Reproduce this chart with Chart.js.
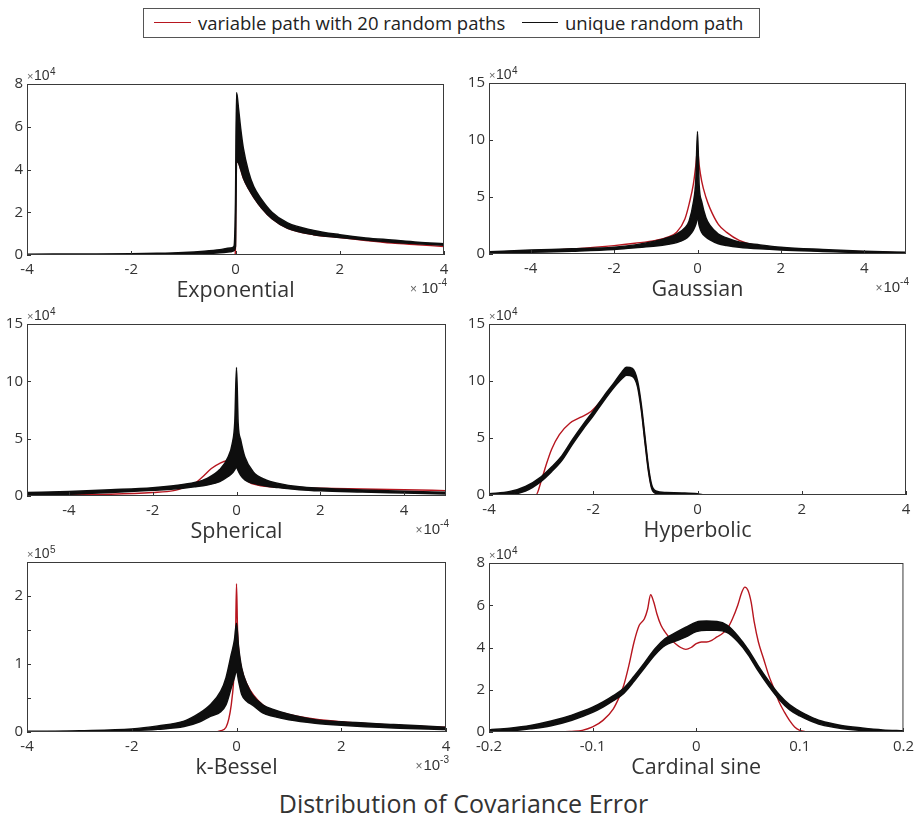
<!DOCTYPE html>
<html>
<head>
<meta charset="utf-8">
<script src="https://cdn.jsdelivr.net/npm/chart.js@4"></script>
<style>
  html, body { margin: 0; padding: 0; background: #fff; }
  body { width: 921px; height: 818px; position: relative; overflow: hidden; font-family: "Open Sans", sans-serif; }
  canvas { position: absolute; }
  #legend { position: absolute; left: 143px; top: 8px; width: 617px; height: 30px; border: 1px solid #555; box-sizing: border-box; background: #fff; }
  #legend .sw { position: absolute; top: 13px; height: 1px; }
  #legend .tx { position: absolute; top: 0; line-height: 27px; font-size: 18.5px; color: #222; white-space: nowrap; }
  #maintitle { position: absolute; left: 0; width: 927px; top: 786px; text-align: center; font-size: 25px; line-height: 34px; color: #333; }
</style>
</head>
<body>
<div id="legend">
  <div class="sw" style="left:10px;width:37px;background:#b7161f"></div>
  <div class="tx" style="left:54px">variable path with 20 random paths</div>
  <div class="sw" style="left:378px;width:36px;background:#111"></div>
  <div class="tx" style="left:421px">unique random path</div>
</div>
<div id="maintitle">Distribution of Covariance Error</div>
<script>
// ---------------- DATA (x in axis units, y in axis units) ----------------
// Tick values
const xTicks4   = [-4, -2, 0, 2, 4];
const xTicksCar = [-0.2, -0.1, 0, 0.1, 0.2];
const yTicks8   = [0, 2, 4, 6, 8];
const yTicks15  = [0, 5, 10, 15];
const yTicksBes = [0, 0.5, 1, 1.5, 2, 2.5];
const yLabelsBes = ['0', '', '1', '', '2', ''];

// Exponential (x ×1e-4, y ×1e4)
const expX    = [-4, -3, -2, -1.5, -1, -0.6, -0.3, -0.1, -0.03, 0, 0.02, 0.06, 0.1, 0.15, 0.25, 0.35, 0.5, 0.7, 1, 1.5, 2, 2.5, 3, 3.5, 4];
const expLow  = [0, 0, 0, 0.01, 0.03, 0.06, 0.1, 0.15, 0.2, 0.4, 4.4, 4.3, 4.0, 3.6, 3.1, 2.7, 2.2, 1.7, 1.25, 0.95, 0.82, 0.7, 0.6, 0.53, 0.46];
const expHigh = [0.04, 0.05, 0.06, 0.08, 0.12, 0.18, 0.25, 0.33, 0.4, 2.5, 7.6, 6.8, 5.9, 5.0, 3.9, 3.2, 2.6, 2.0, 1.5, 1.15, 0.95, 0.8, 0.7, 0.6, 0.53];
const expRedX = [-4, -3, -2, -1, -0.1, -0.01, 0, 0.01, 0.06, 0.1, 0.15, 0.25, 0.35, 0.5, 0.7, 1, 1.5, 2, 2.5, 3, 3.5, 4];
const expRed  = [0, 0, 0, 0, 0, 0, 0.5, 4.4, 4.3, 4.0, 3.6, 3.1, 2.7, 2.2, 1.7, 1.25, 0.95, 0.82, 0.68, 0.56, 0.48, 0.4];

// Gaussian (x ×1e-4, y ×1e4)
const gauX    = [-5, -4, -3, -2, -1.5, -1, -0.7, -0.5, -0.3, -0.2, -0.1, -0.04, 0, 0.04, 0.1, 0.2, 0.3, 0.5, 0.7, 1, 1.5, 2, 3, 4, 5];
const gauLow  = [0.05, 0.15, 0.25, 0.4, 0.55, 0.7, 0.85, 1.0, 1.3, 1.6, 2.1, 2.6, 3.2, 2.5, 1.9, 1.5, 1.25, 0.9, 0.75, 0.6, 0.45, 0.35, 0.22, 0.1, 0.03];
const gauHigh = [0.2, 0.35, 0.45, 0.6, 0.8, 1.15, 1.45, 1.75, 2.3, 2.9, 4.5, 6.5, 10.75, 6.0, 4.6, 3.2, 2.5, 1.75, 1.4, 1.05, 0.8, 0.6, 0.4, 0.25, 0.15];
const gauRed  = [0.1, 0.23, 0.44, 0.73, 0.94, 1.2, 1.5, 1.9, 3.1, 4.4, 6.1, 7.8, 9.2, 7.8, 6.4, 5.0, 4.0, 2.6, 1.9, 1.2, 0.7, 0.45, 0.3, 0.2, 0.1];

// Spherical (x ×1e-4, y ×1e4)
const sphX    = [-5, -4, -3, -2, -1.5, -1, -0.7, -0.4, -0.2, -0.1, -0.04, 0, 0.04, 0.1, 0.2, 0.4, 0.7, 1, 1.5, 2, 3, 4, 5];
const sphLow  = [0.1, 0.15, 0.3, 0.5, 0.6, 0.8, 0.96, 1.25, 1.7, 2.0, 2.3, 2.5, 2.2, 1.8, 1.4, 1.1, 0.87, 0.73, 0.55, 0.45, 0.35, 0.26, 0.17];
const sphHigh = [0.3, 0.4, 0.55, 0.73, 0.9, 1.17, 1.54, 2.3, 3.4, 4.6, 6.5, 11.2, 6.3, 4.9, 3.4, 2.1, 1.4, 1.1, 0.8, 0.67, 0.52, 0.41, 0.32];
const sphRedX = [-5, -3, -2, -1.5, -1.2, -1, -0.8, -0.6, -0.4, -0.25, -0.1, 0, 0.1, 0.3, 0.5, 1, 2, 3, 4, 5];
const sphRed  = [0.08, 0.15, 0.3, 0.47, 0.8, 1.1, 1.7, 2.4, 2.85, 3.05, 3.0, 3.2, 2.2, 1.2, 0.96, 0.76, 0.67, 0.61, 0.55, 0.47];

// Hyperbolic (x, y ×1e4)
const hypX    = [-4, -3.6, -3.3, -3.0, -2.8, -2.6, -2.4, -2.2, -2.0, -1.8, -1.6, -1.45, -1.36, -1.25, -1.15, -1.08, -1.0, -0.94, -0.88, -0.8, -0.6, -0.3, 0, 0.1, 1, 2, 3, 4];
const hypLow  = [0, 0.05, 0.35, 1.2, 2.05, 3.05, 4.45, 5.75, 6.95, 8.25, 9.45, 10.2, 10.5, 10.4, 9.5, 7.5, 4.3, 2.05, 0.6, 0.15, 0.08, 0.05, 0.02, 0, 0, 0, 0, 0];
const hypHigh = [0.1, 0.3, 0.75, 1.6, 2.45, 3.45, 4.85, 6.15, 7.35, 8.65, 9.85, 10.8, 11.2, 11.1, 10.0, 8.0, 4.8, 2.45, 0.9, 0.35, 0.22, 0.18, 0.1, 0.03, 0.03, 0.03, 0.03, 0.03];
const hypRedX = [-4, -3.1, -3.0, -2.9, -2.8, -2.65, -2.45, -2.25, -2.05, -1.9, -1.6, -1.45, -1.36, -1.25, -1.15, -1.08, -1.0, -0.94, -0.88, -0.8, -0.7, 0, 4];
const hypRed  = [0, 0, 1.2, 2.7, 4.0, 5.3, 6.3, 6.8, 7.3, 8.0, 9.7, 10.5, 10.8, 10.7, 9.7, 7.7, 4.5, 2.2, 0.7, 0.15, 0.02, 0, 0];

// k-Bessel (x ×1e-3, y ×1e5)
const besX    = [-4, -3, -2, -1.5, -1, -0.7, -0.5, -0.3, -0.2, -0.1, -0.04, 0, 0.04, 0.1, 0.2, 0.3, 0.5, 0.7, 1, 1.5, 2, 3, 4];
const besLow  = [0.003, 0.008, 0.02, 0.04, 0.08, 0.15, 0.23, 0.3, 0.4, 0.65, 0.8, 0.9, 0.75, 0.55, 0.45, 0.4, 0.28, 0.23, 0.18, 0.13, 0.1, 0.06, 0.035];
const besHigh = [0.01, 0.02, 0.045, 0.09, 0.16, 0.28, 0.4, 0.6, 0.8, 1.14, 1.35, 1.6, 1.25, 0.94, 0.7, 0.55, 0.4, 0.33, 0.26, 0.18, 0.15, 0.11, 0.07];
const besRedX = [-4, -0.4, -0.3, -0.2, -0.1, -0.05, -0.02, 0, 0.02, 0.05, 0.1, 0.2, 0.5, 1, 2, 3, 4];
const besRed  = [0, 0, 0.02, 0.07, 0.4, 0.8, 1.3, 2.18, 1.5, 1.15, 0.92, 0.7, 0.4, 0.26, 0.15, 0.1, 0.07];

// Cardinal sine (x, y ×1e4)
const carX    = [-0.2, -0.18, -0.16, -0.14, -0.12, -0.1, -0.09, -0.08, -0.07, -0.06, -0.05, -0.04, -0.03, -0.02, -0.01, 0, 0.01, 0.02, 0.03, 0.04, 0.05, 0.06, 0.07, 0.08, 0.09, 0.1, 0.11, 0.12, 0.14, 0.16, 0.18, 0.2];
const carLow  = [0.0, 0.05, 0.15, 0.3, 0.56, 0.93, 1.18, 1.48, 1.83, 2.4, 3.03, 3.65, 4.1, 4.3, 4.5, 4.75, 4.82, 4.82, 4.7, 4.28, 3.67, 2.88, 2.17, 1.54, 1.06, 0.76, 0.53, 0.35, 0.17, 0.07, 0.02, 0.0];
const carHigh = [0.1, 0.18, 0.31, 0.52, 0.8, 1.17, 1.42, 1.72, 2.07, 2.64, 3.27, 3.93, 4.42, 4.7, 4.96, 5.2, 5.25, 5.23, 5.05, 4.56, 3.91, 3.12, 2.41, 1.78, 1.3, 0.98, 0.73, 0.53, 0.31, 0.19, 0.1, 0.06];
const carRedX = [-0.2, -0.13, -0.12, -0.11, -0.1, -0.09, -0.08, -0.075, -0.07, -0.065, -0.06, -0.055, -0.05, -0.047, -0.044, -0.041, -0.038, -0.034, -0.03, -0.025, -0.02, -0.015, -0.01, -0.005, 0, 0.005, 0.01, 0.015, 0.02, 0.025, 0.03, 0.035, 0.04, 0.044, 0.047, 0.05, 0.053, 0.056, 0.06, 0.065, 0.07, 0.075, 0.08, 0.085, 0.09, 0.095, 0.1, 0.105, 0.11, 0.2];
const carRed  = [0, 0, 0.03, 0.08, 0.24, 0.55, 1.1, 1.58, 2.2, 3.15, 4.26, 5.05, 5.36, 5.8, 6.5, 6.15, 5.6, 5.05, 4.73, 4.42, 4.18, 4.0, 3.91, 4.0, 4.18, 4.26, 4.26, 4.34, 4.5, 4.65, 4.89, 5.36, 5.99, 6.62, 6.86, 6.7, 6.15, 5.2, 4.26, 3.47, 2.68, 2.05, 1.42, 0.95, 0.55, 0.24, 0.08, 0.02, 0, 0];

// ---------------- LAYOUT ----------------
const RED = '#b7161f';
const BLACK = '#0e0e0e';
const PANELS = [
  {L: 27,  T: 84,  W: 417, H: 171, xMin: -4, xMax: 4, yMin: 0, yMax: 8,   xTicks: xTicks4, yTicks: yTicks8,  yLabels: null, title: 'Exponential', topExp: '4', botExp: '-4', botSpace: true,
   x: expX, low: expLow, high: expHigh, redX: expRedX, red: expRed},
  {L: 489, T: 83,  W: 417, H: 171, xMin: -5, xMax: 5, yMin: 0, yMax: 15,  xTicks: xTicks4, yTicks: yTicks15, yLabels: null, title: 'Gaussian', topExp: '4', botExp: '-4',
   x: gauX, low: gauLow, high: gauHigh, redX: gauX, red: gauRed},
  {L: 27,  T: 324, W: 419, H: 172, xMin: -5, xMax: 5, yMin: 0, yMax: 15,  xTicks: xTicks4, yTicks: yTicks15, yLabels: null, title: 'Spherical', topExp: '4', botExp: '-4',
   x: sphX, low: sphLow, high: sphHigh, redX: sphRedX, red: sphRed},
  {L: 489, T: 324, W: 417, H: 171, xMin: -4, xMax: 4, yMin: 0, yMax: 15,  xTicks: xTicks4, yTicks: yTicks15, yLabels: null, title: 'Hyperbolic', topExp: '4', botExp: null,
   x: hypX, low: hypLow, high: hypHigh, redX: hypRedX, red: hypRed},
  {L: 27,  T: 562, W: 419, H: 170, xMin: -4, xMax: 4, yMin: 0, yMax: 2.5, xTicks: xTicks4, yTicks: yTicksBes, yLabels: yLabelsBes, title: 'k-Bessel', topExp: '5', botExp: '-3',
   x: besX, low: besLow, high: besHigh, redX: besRedX, red: besRed},
  {L: 489, T: 563, W: 417, H: 169, xMin: -0.2, xMax: 0.2, yMin: 0, yMax: 8, xTicks: xTicksCar, yTicks: yTicks8, yLabels: null, title: 'Cardinal sine', topExp: '4', botExp: null,
   x: carX, low: carLow, high: carHigh, redX: carRedX, red: carRed}
];

const TICK_FONT = {family: 'Open Sans', size: 15};

function decoPlugin(p) {
  return {
    id: 'deco',
    afterDraw(chart) {
      const ctx = chart.ctx, a = chart.chartArea;
      const xs = chart.scales.x, ys = chart.scales.y;
      ctx.save();
      // inward tick marks
      ctx.strokeStyle = '#333';
      ctx.lineWidth = 1;
      ctx.beginPath();
      p.xTicks.forEach(v => {
        const px = Math.round(xs.getPixelForValue(v)) + 0.5;
        ctx.moveTo(px, a.bottom); ctx.lineTo(px, a.bottom - 4);
      });
      p.yTicks.forEach(v => {
        const py = Math.round(ys.getPixelForValue(v)) + 0.5;
        ctx.moveTo(a.left, py); ctx.lineTo(a.left + 4, py);
      });
      ctx.stroke();
      // box
      ctx.strokeStyle = '#3a3a3a';
      ctx.strokeRect(a.left + 0.5, a.top + 0.5, a.right - a.left - 1, a.bottom - a.top - 1);
      // subplot title
      ctx.fillStyle = '#333';
      ctx.textAlign = 'center';
      ctx.textBaseline = 'alphabetic';
      ctx.font = '21.5px "Open Sans"';
      ctx.fillText(p.title, (a.left + a.right) / 2, a.bottom + 42);
      // top exponent label
      ctx.textAlign = 'left';
      let x = a.left;
      const by = a.top - 4;
      ctx.fillStyle = '#666';
      ctx.font = '11px "Liberation Sans"';
      ctx.fillText('×', x, by); x += ctx.measureText('×').width + 0.5;
      ctx.fillStyle = '#333';
      ctx.font = '14px "Liberation Sans"';
      ctx.fillText('10', x, by); x += ctx.measureText('10').width + 0.5;
      ctx.font = '10px "Liberation Sans"';
      ctx.fillText(p.topExp, x, by - 5);
      // bottom-right exponent label
      if (p.botExp) {
        const bb = a.bottom + 38;
        ctx.font = '10px "Liberation Sans"';
        const wSup = ctx.measureText(p.botExp).width;
        ctx.font = '15px "Liberation Sans"';
        const w10 = ctx.measureText('10').width;
        ctx.font = '12px "Liberation Sans"';
        const wx = ctx.measureText(p.botSpace ? '× ' : '×').width;
        let xr = a.right + 3 - wSup - w10 - wx - 1;
        ctx.fillStyle = '#666';
        ctx.fillText(p.botSpace ? '× ' : '×', xr, bb); xr += wx + 1;
        ctx.fillStyle = '#333';
        ctx.font = '15px "Liberation Sans"';
        ctx.fillText('10', xr, bb); xr += w10;
        ctx.font = '10px "Liberation Sans"';
        ctx.fillText(p.botExp, xr, bb - 7);
      }
      ctx.restore();
    }
  };
}

function makePanel(p) {
  const padL = 30, padT = 30, padR = 14, padB = 62;
  const c = document.createElement('canvas');
  c.width = padL + p.W + padR;
  c.height = padT + p.H + padB;
  c.style.left = (p.L - padL) + 'px';
  c.style.top = (p.T - padT) + 'px';
  document.body.appendChild(c);
  const pts = (xs, ys) => xs.map((x, i) => ({x: x, y: ys[i]}));
  new Chart(c, {
    type: 'line',
    data: {
      datasets: [
        {label: 'unique random path (low)', data: pts(p.x, p.low), borderColor: BLACK, borderWidth: 1.5, pointRadius: 0, fill: false, cubicInterpolationMode: 'monotone'},
        {label: 'unique random path (high)', data: pts(p.x, p.high), borderColor: BLACK, borderWidth: 1.5, pointRadius: 0, fill: '-1', backgroundColor: BLACK, cubicInterpolationMode: 'monotone'},
        {label: 'variable path with 20 random paths', data: pts(p.redX, p.red), borderColor: RED, borderWidth: 1.4, pointRadius: 0, fill: false, cubicInterpolationMode: 'monotone'}
      ]
    },
    options: {
      responsive: false,
      animation: false,
      devicePixelRatio: 1,
      events: [],
      layout: {padding: {left: 0, top: padT, right: padR, bottom: 0}},
      plugins: {legend: {display: false}, tooltip: {enabled: false}, title: {display: false}},
      scales: {
        x: {
          type: 'linear', min: p.xMin, max: p.xMax,
          grid: {display: false, drawTicks: false}, border: {display: false},
          afterBuildTicks: s => { s.ticks = p.xTicks.map(v => ({value: v})); },
          afterFit: s => { s.height = padB; },
          ticks: {autoSkip: false, maxRotation: 0, minRotation: 0, padding: 6, font: TICK_FONT, color: '#333',
                  callback: v => String(v)}
        },
        y: {
          type: 'linear', min: p.yMin, max: p.yMax,
          grid: {display: false, drawTicks: false}, border: {display: false},
          afterBuildTicks: s => { s.ticks = p.yTicks.map(v => ({value: v})); },
          afterFit: s => { s.width = padL; },
          ticks: {autoSkip: false, padding: 4, font: TICK_FONT, color: '#333',
                  callback: (v, i) => p.yLabels ? p.yLabels[i] : String(v)}
        }
      }
    },
    plugins: [decoPlugin(p)]
  });
}

PANELS.forEach(makePanel);
</script>
</body>
</html>
